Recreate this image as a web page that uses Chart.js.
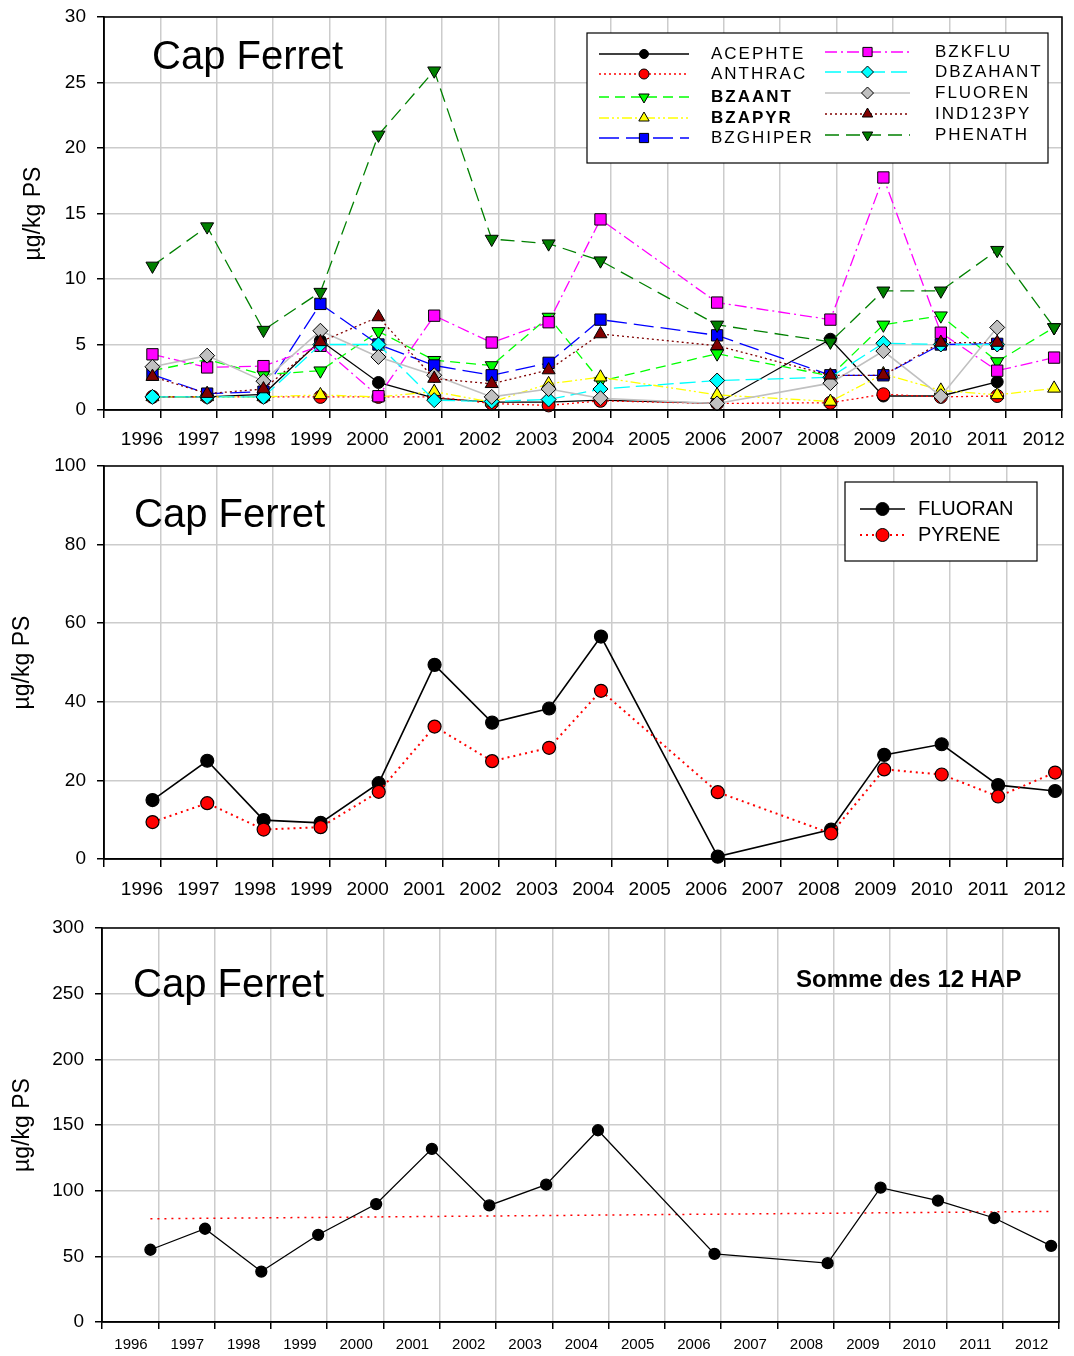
<!DOCTYPE html>
<html>
<head>
<meta charset="utf-8">
<script src="https://cdn.jsdelivr.net/npm/chart.js@4.4.1/dist/chart.umd.min.js"></script>
<style>
  body { margin: 0; background: #fff; width: 1074px; height: 1356px; position: relative; overflow: hidden; }
  canvas { position: absolute; left: 0; }
</style>
</head>
<body>
<canvas id="hapChart" width="1074" height="466" style="top:-6px;width:1074px;height:466px"></canvas>
<canvas id="pyrChart" width="1074" height="466" style="top:443px;width:1074px;height:466px"></canvas>
<canvas id="sumChart" width="1074" height="451" style="top:905px;width:1074px;height:451px"></canvas>
<script>
// Sampling dates (fractional years, read from the x position of the points)
const sampleDates = [1996.86, 1997.83, 1998.83, 1999.84, 2000.87, 2001.86, 2002.88, 2003.89,
                     2004.81, 2006.88, 2008.89, 2009.83, 2010.85, 2011.85, 2012.86];
const yearLabels = ['1996', '1997', '1998', '1999', '2000', '2001', '2002', '2003', '2004',
                    '2005', '2006', '2007', '2008', '2009', '2010', '2011', '2012'];

// Top chart, µg/kg PS
const hapNames = ['ACEPHTE', 'ANTHRAC', 'BZAANT', 'BZAPYR', 'BZGHIPER',
                  'BZKFLU', 'DBZAHANT', 'FLUOREN', 'IND123PY', 'PHENATH'];
const acephte  = [1.0, 1.0, 1.2, 5.3, 2.1, 0.9, 0.6, 0.6, 0.75, 0.5, 5.4, 1.07, 1.07, 2.15, null];
const anthrac  = [1.0, 1.0, 1.0, 1.0, 1.0, 1.0, 0.5, 0.35, 0.7, 0.5, 0.55, 1.2, 1.0, 1.07, null];
const bzaant   = [3.0, 3.85, 2.7, 3.0, 6.0, 3.8, 3.4, 7.1, 2.2, 4.3, 2.6, 6.5, 7.2, 3.7, 6.3];
const bzapyr   = [1.0, 1.0, 1.0, 1.15, 1.0, 1.4, 0.6, 2.0, 2.5, 1.15, 0.65, 2.75, 1.5, 1.15, 1.65];
const bzghiper = [2.7, 1.25, 1.4, 8.1, 5.0, 3.4, 2.65, 3.6, 6.9, 5.7, 2.65, 2.65, 5.0, 5.05, null];
const bzkflu   = [4.25, 3.25, 3.35, 4.9, 1.05, 7.2, 5.15, 6.7, 14.55, 8.2, 6.9, 17.75, 5.9, 3.0, 4.0];
const dbzahant = [1.0, 1.0, 1.0, 5.0, 5.0, 0.75, 0.65, 0.8, 1.6, 2.25, 2.5, 5.1, 5.0, 5.0, null];
const fluoren  = [3.3, 4.15, 2.2, 6.05, 4.05, 2.65, 1.0, 1.6, 0.9, 0.5, 2.05, 4.5, 1.05, 6.3, null];
const ind123py = [2.55, 1.25, 1.6, 5.2, 7.1, 2.4, 2.0, 3.05, 5.8, 4.9, 2.65, 2.65, 5.15, 5.15, null];
const phenath  = [11.0, 14.0, 6.1, 9.0, 21.0, 25.9, 13.05, 12.7, 11.4, 6.5, 5.2, 9.1, 9.1, 12.2, 6.3];
const hapValues = [acephte, anthrac, bzaant, bzapyr, bzghiper, bzkflu, dbzahant, fluoren, ind123py, phenath];

// Middle chart
const pyrNames = ['FLUORAN', 'PYRENE'];
const fluoran = [15.0, 25.0, 9.9, 9.2, 19.3, 49.4, 34.7, 38.3, 56.6, 0.6, 7.5, 26.5, 29.2, 18.8, 17.3];
const pyrene  = [9.4, 14.2, 7.5, 8.1, 17.1, 33.7, 24.9, 28.3, 42.8, 17.0, 6.5, 22.8, 21.5, 15.9, 22.0];

// Bottom chart: sum of the 12 PAH and its trend line (end points)
const sumHap = [55, 71, 38.4, 66.4, 89.8, 131.8, 88.8, 104.6, 146, 51.9, 44.8, 102.3, 92.4, 79.2, 58];
const trendDates = [1996.86, 2012.86];
const trendValues = [78.6, 84.2];

const FONT = '"Liberation Sans", Arial, sans-serif';

// styles for the top chart series
const hapStyles = [
  { color: '#000000', fill: '#000000', dash: [],             point: 'circle',   rot: 0,   r: 6,   bold: false },
  { color: '#ff0000', fill: '#ff0000', dash: [2, 3],         point: 'circle',   rot: 0,   r: 6.5, bold: false },
  { color: '#00ff00', fill: '#00ff00', dash: [10, 6],        point: 'triangle', rot: 180, r: 7.5, bold: true },
  { color: '#ffff00', fill: '#ffff00', dash: [10, 3, 2, 3, 2, 3], point: 'triangle', rot: 0, r: 7.5, bold: true },
  { color: '#0000ff', fill: '#0000ff', dash: [20, 7],        point: 'rect',     rot: 0,   r: 8,   bold: false },
  { color: '#ff00ff', fill: '#ff00ff', dash: [12, 4, 2, 4],  point: 'rect',     rot: 0,   r: 8,   bold: false },
  { color: '#00ffff', fill: '#00ffff', dash: [16, 6],        point: 'rectRot',  rot: 0,   r: 7.5, bold: false },
  { color: '#c0c0c0', fill: '#c0c0c0', dash: [],             point: 'rectRot',  rot: 0,   r: 7.5, bold: false },
  { color: '#800000', fill: '#800000', dash: [2, 3],         point: 'triangle', rot: 0,   r: 7.5, bold: false },
  { color: '#008000', fill: '#008000', dash: [14, 7],        point: 'triangle', rot: 180, r: 7.5, bold: false }
];

function toPoints(xs, ys) {
  return xs.map((x, i) => ({ x: x, y: ys[i] }));
}

function drawMarker(ctx, style, rot, fill, x, y, r) {
  ctx.beginPath();
  if (style === 'circle') {
    ctx.arc(x, y, r, 0, Math.PI * 2);
  } else if (style === 'rect') {
    const s = r * Math.SQRT1_2;
    ctx.rect(x - s, y - s, 2 * s, 2 * s);
  } else if (style === 'rectRot') {
    ctx.moveTo(x, y - r); ctx.lineTo(x + r, y); ctx.lineTo(x, y + r); ctx.lineTo(x - r, y);
    ctx.closePath();
  } else {
    let rad = rot * Math.PI / 180;
    ctx.moveTo(x + Math.sin(rad) * r, y - Math.cos(rad) * r);
    rad += Math.PI * 2 / 3;
    ctx.lineTo(x + Math.sin(rad) * r, y - Math.cos(rad) * r);
    rad += Math.PI * 2 / 3;
    ctx.lineTo(x + Math.sin(rad) * r, y - Math.cos(rad) * r);
    ctx.closePath();
  }
  ctx.fillStyle = fill;
  ctx.fill();
  ctx.setLineDash([]);
  ctx.strokeStyle = '#000';
  ctx.lineWidth = 1;
  ctx.stroke();
}

function drawLegend(ctx, lg, dy) {
  const [x0, y0, x1, y1] = lg.box;
  ctx.fillStyle = '#fff';
  ctx.fillRect(x0, y0 - dy, x1 - x0, y1 - y0);
  ctx.strokeStyle = '#000';
  ctx.lineWidth = 1.2;
  ctx.setLineDash([]);
  ctx.strokeRect(x0, y0 - dy, x1 - x0, y1 - y0);
  lg.items.forEach(it => {
    const y = it.y - dy;
    ctx.setLineDash(it.dash);
    ctx.strokeStyle = it.color;
    ctx.lineWidth = it.width;
    ctx.beginPath();
    ctx.moveTo(it.x0, y);
    ctx.lineTo(it.x1, y);
    ctx.stroke();
    drawMarker(ctx, it.point, it.rot, it.fill, (it.x0 + it.x1) / 2, y, it.r);
    ctx.fillStyle = '#000';
    ctx.font = (it.bold ? 'bold ' : '') + lg.fontSize + 'px ' + FONT;
    ctx.letterSpacing = lg.spacing;
    ctx.textBaseline = 'middle';
    ctx.textAlign = 'left';
    ctx.fillText(it.label, it.tx, y);
    ctx.letterSpacing = '0px';
  });
}

// frame, titles and legends
const decorPlugin = {
  id: 'decor',
  afterDraw(chart, args, opts) {
    const ctx = chart.ctx;
    const a = chart.chartArea;
    const dy = opts.offsetY || 0;
    ctx.save();
    ctx.strokeStyle = '#000';
    ctx.lineWidth = 1.5;
    ctx.setLineDash([]);
    ctx.strokeRect(a.left, a.top, a.right - a.left, a.bottom - a.top);
    (opts.texts || []).forEach(t => {
      ctx.font = t.font;
      ctx.fillStyle = '#000';
      ctx.textBaseline = 'alphabetic';
      ctx.textAlign = 'left';
      ctx.fillText(t.text, t.x, t.y - dy);
    });
    if (opts.legend) drawLegend(ctx, opts.legend, dy);
    ctx.restore();
  }
};

function yearAxis(labelOffset, fontSize, tickLen, pad, height) {
  return {
    type: 'linear',
    min: 1996,
    max: 2013,
    afterFit: s => { s.height = height; },
    grid: { color: '#cccccc', lineWidth: 1.5, tickColor: '#000', tickLength: tickLen, tickWidth: 1.5 },
    border: { color: '#000', width: 1.5 },
    ticks: {
      stepSize: 1, autoSkip: false, maxRotation: 0, minRotation: 0,
      labelOffset: labelOffset, padding: pad, color: '#000',
      font: { family: FONT, size: fontSize },
      callback: v => yearLabels[Math.round(v) - 1996] || ''
    }
  };
}

function valueAxis(max, step, width, titlePad) {
  return {
    min: 0,
    max: max,
    afterFit: s => { s.width = width; },
    grid: { color: '#cccccc', lineWidth: 1.5, tickColor: '#000', tickLength: 7, tickWidth: 1.5 },
    border: { color: '#000', width: 1.5 },
    ticks: { stepSize: step, padding: 11, color: '#000', font: { family: FONT, size: 19 } },
    title: {
      display: true, text: 'µg/kg PS', color: '#000',
      font: { family: FONT, size: 23 }, padding: { top: titlePad, bottom: 0 }
    }
  };
}

function baseOptions(padding, xAxis, yAxis, decor) {
  return {
    responsive: false,
    animation: false,
    layout: { padding: padding },
    elements: { line: { tension: 0 } },
    scales: { x: xAxis, y: yAxis },
    plugins: { legend: { display: false }, tooltip: { enabled: false }, decor: decor }
  };
}

// ---------- top chart ----------
const hapLegendRowsLeft = [54, 74, 97, 118, 138];
const hapLegendRowsRight = [52, 72, 93, 114, 135];
const hapLegendItems = hapNames.map((name, i) => {
  const st = hapStyles[i];
  const left = i < 5;
  return {
    label: name, color: st.color, fill: st.fill, dash: st.dash, point: st.point, rot: st.rot,
    r: st.r - 1.5, bold: st.bold, width: 1.3,
    x0: left ? 599 : 825, x1: left ? 689 : 910, tx: left ? 711 : 935,
    y: left ? hapLegendRowsLeft[i] : hapLegendRowsRight[i - 5]
  };
});

new Chart(document.getElementById('hapChart'), {
  type: 'line',
  data: {
    datasets: hapNames.map((name, i) => ({
      label: name,
      data: toPoints(sampleDates, hapValues[i]),
      borderColor: hapStyles[i].color,
      borderWidth: name === 'FLUOREN' ? 1.6 : 1.3,
      borderDash: hapStyles[i].dash,
      pointStyle: hapStyles[i].point,
      pointRotation: hapStyles[i].rot,
      pointRadius: hapStyles[i].r,
      pointBackgroundColor: hapStyles[i].fill,
      pointBorderColor: '#000',
      pointBorderWidth: 1,
      spanGaps: true,
      clip: false,
      order: hapNames.length - i
    }))
  },
  options: baseOptions(
    { top: 23, right: 12, left: 0, bottom: 0 },
    yearAxis(38, 19, 8, 10, 50),
    valueAxis(30, 5, 104, 20),
    {
      offsetY: -6,
      texts: [{ text: 'Cap Ferret', x: 152, y: 69, font: '40px ' + FONT }],
      legend: { box: [587, 33, 1048, 163], fontSize: 17, spacing: '2px', items: hapLegendItems }
    }
  ),
  plugins: [decorPlugin]
});

// ---------- middle chart ----------
const pyrColors = ['#000000', '#ff0000'];
const pyrDash = [[], [2, 4]];
const pyrValues = [fluoran, pyrene];

new Chart(document.getElementById('pyrChart'), {
  type: 'line',
  data: {
    datasets: pyrNames.map((name, i) => ({
      label: name,
      data: toPoints(sampleDates, pyrValues[i]),
      borderColor: pyrColors[i],
      borderWidth: i === 0 ? 1.6 : 2,
      borderDash: pyrDash[i],
      pointStyle: 'circle',
      pointRadius: 6.5,
      pointBackgroundColor: pyrColors[i],
      pointBorderColor: '#000',
      pointBorderWidth: 1.2,
      clip: false,
      order: pyrNames.length - i
    }))
  },
  options: baseOptions(
    { top: 23, right: 11, left: 0, bottom: 0 },
    yearAxis(38, 19, 8, 11, 50),
    valueAxis(100, 20, 104, 9),
    {
      offsetY: 443,
      texts: [{ text: 'Cap Ferret', x: 134, y: 527, font: '40px ' + FONT }],
      legend: {
        box: [845, 482, 1037, 561], fontSize: 20, spacing: '0px',
        items: pyrNames.map((name, i) => ({
          label: name, color: pyrColors[i], fill: pyrColors[i], dash: pyrDash[i],
          point: 'circle', rot: 0, r: 6.5, bold: false, width: i === 0 ? 1.6 : 2,
          x0: 860, x1: 905, tx: 918, y: i === 0 ? 509 : 535
        }))
      }
    }
  ),
  plugins: [decorPlugin]
});

// ---------- bottom chart ----------
new Chart(document.getElementById('sumChart'), {
  type: 'line',
  data: {
    datasets: [
      {
        label: 'Somme des 12 HAP',
        data: toPoints(sampleDates, sumHap),
        borderColor: '#000',
        borderWidth: 1.3,
        pointStyle: 'circle',
        pointRadius: 5.5,
        pointBackgroundColor: '#000',
        pointBorderColor: '#000',
        clip: false,
        order: 1
      },
      {
        label: 'Tendance',
        data: toPoints(trendDates, trendValues),
        borderColor: '#ff0000',
        borderWidth: 1.5,
        borderDash: [2, 5],
        pointRadius: 0,
        clip: false,
        order: 2
      }
    ]
  },
  options: baseOptions(
    { top: 23, right: 15, left: 0, bottom: 0 },
    yearAxis(29, 15, 7, 7, 34),
    valueAxis(300, 50, 102, 9),
    {
      offsetY: 905,
      texts: [
        { text: 'Cap Ferret', x: 133, y: 997, font: '40px ' + FONT },
        { text: 'Somme des 12 HAP', x: 796, y: 987, font: 'bold 24px ' + FONT }
      ]
    }
  ),
  plugins: [decorPlugin]
});
</script>
</body>
</html>
